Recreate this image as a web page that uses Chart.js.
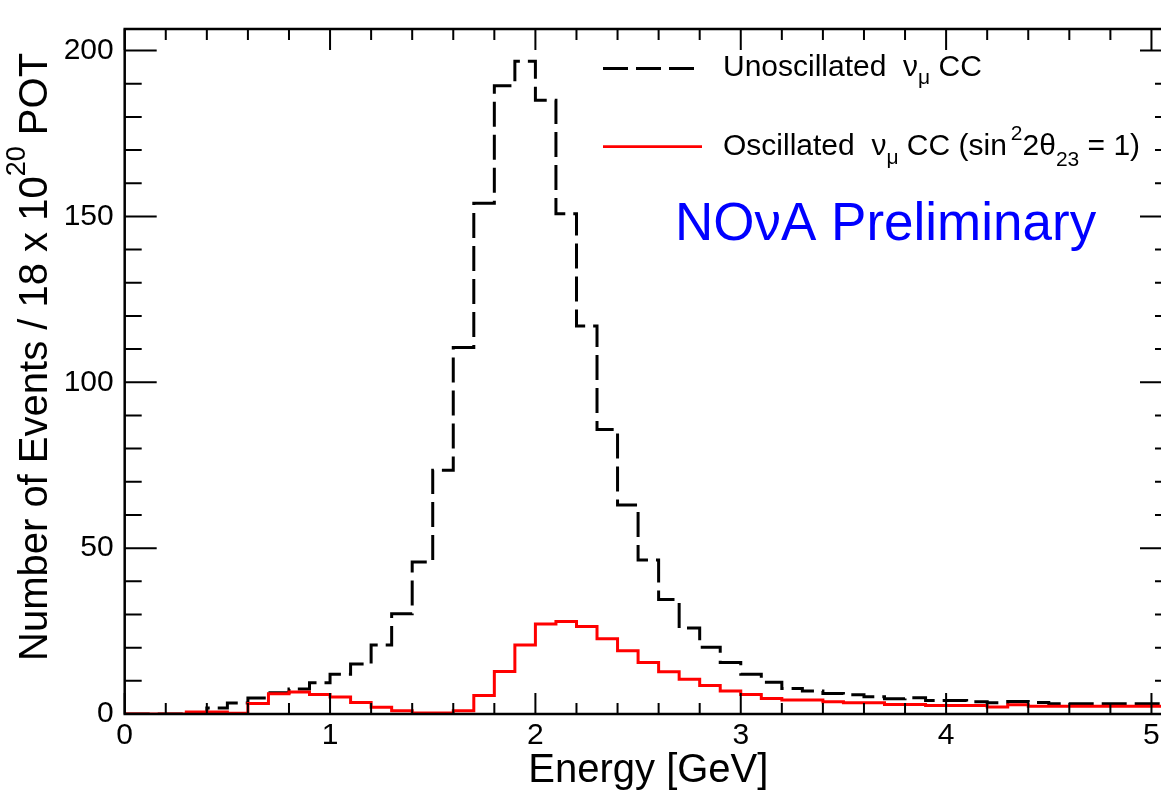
<!DOCTYPE html>
<html lang="en">
<head>
<meta charset="UTF-8">
<title>NOvA numu CC energy spectrum</title>
<script src="https://cdn.jsdelivr.net/npm/chart.js"></script>
<style>
    html, body {
        margin: 0;
        padding: 0;
        background: #fff;
        overflow: hidden;
    }

    /* frame runs a little past the right edge of the window, like the original */
    .wrap {
        width: 1180px;
        height: 792px;
        position: relative;
    }
</style>
</head>
<body>
<div class="wrap"><canvas id="spectrum"></canvas></div>

<script>
// 0.1 GeV bins from 0 to 5.1 GeV, events per bin
const binWidth = 0.1;
const unoscillated = [
    0, 0, 0, 0.3, 1.8, 3.3, 4.8, 6.4, 7.5, 9.4,
    12.0, 15.1, 20.8, 30.2, 45.8, 73.5, 110.5, 154.0, 189.4, 196.8,
    185.0, 150.8, 117.0, 85.8, 63.0, 46.4, 34.5, 25.9, 20.1, 15.5,
    12.0, 9.6, 7.7, 6.9, 6.2, 5.8, 5.2, 4.6, 4.9, 4.1,
    4.1, 3.7, 3.4, 3.8, 3.5, 3.1, 3.1, 3.1, 3.1, 3.1,
    3.1
];
const oscillated = [
    0, 0, 0, 0.6, 0.6, 0.2, 3.2, 6.1, 6.6, 5.9,
    5.1, 3.5, 2.0, 1.0, 0.3, 0.3, 1.0, 5.6, 12.8, 20.8,
    27.1, 27.9, 26.4, 22.7, 19.1, 15.5, 12.7, 10.5, 8.6, 6.9,
    5.9, 4.7, 4.2, 4.2, 3.7, 3.4, 3.4, 2.9, 2.9, 2.6,
    2.6, 2.6, 2.1, 2.8, 2.3, 2.3, 2.3, 2.3, 2.3, 2.3,
    2.3
];
const xTicks = [0, 1, 2, 3, 4, 5];
const yTicks = [0, 50, 100, 150, 200];
const xMinorStep = 0.2;
const yMinorStep = 10;

const FONT = '"Liberation Sans", Arial, Helvetica, sans-serif';
Chart.defaults.font.family = FONT;
Chart.defaults.color = '#000';

// histogram -> points at the bin low edges, plus the last upper edge
function toSteps(values) {
    const pts = values.map((v, i) => ({ x: i * binWidth, y: v }));
    pts.push({ x: values.length * binWidth, y: values[values.length - 1] });
    return pts;
}

// text with sub/superscripts, laid out left to right
function drawRich(ctx, x, y, parts) {
    for (const p of parts) {
        ctx.font = p.size + 'px ' + FONT;
        x += p.gap || 0;
        ctx.fillText(p.t, x, y + (p.dy || 0));
        x += ctx.measureText(p.t).width;
    }
}

// ROOT-like frame with inward ticks on all four sides
const rootFrame = {
    id: 'rootFrame',
    afterDatasetsDraw(chart) {
        const { ctx, chartArea: a, scales: { x, y } } = chart;
        ctx.save();
        ctx.strokeStyle = '#000';
        ctx.lineWidth = 2;
        ctx.beginPath();
        for (let i = 0; i * xMinorStep <= x.max + 1e-6; i++) {
            const v = i * xMinorStep;
            const len = Math.abs(v - Math.round(v)) < 1e-6 ? 21 : 11;
            const px = x.getPixelForValue(v);
            ctx.moveTo(px, a.bottom); ctx.lineTo(px, a.bottom - len);
            ctx.moveTo(px, a.top); ctx.lineTo(px, a.top + len);
        }
        for (let i = 0; i * yMinorStep <= y.max + 1e-6; i++) {
            const v = i * yMinorStep;
            const len = v % 50 === 0 ? 32 : 17;
            const py = y.getPixelForValue(v);
            ctx.moveTo(a.left, py); ctx.lineTo(a.left + len, py);
            ctx.moveTo(a.right, py); ctx.lineTo(a.right - len, py);
        }
        ctx.stroke();
        ctx.lineWidth = 2.5;
        ctx.strokeRect(a.left, a.top, a.right - a.left, a.bottom - a.top);
        ctx.restore();
    },
    afterDraw(chart) {
        const ctx = chart.ctx;
        ctx.save();
        ctx.fillStyle = '#000';
        ctx.textBaseline = 'alphabetic';
        ctx.textAlign = 'left';

        // y title
        ctx.save();
        ctx.translate(47, 661);
        ctx.rotate(-Math.PI / 2);
        drawRich(ctx, 0, 0, [
            { t: 'Number of Events / 18 x 10', size: 40 },
            { t: '20', size: 27, dy: -22 },
            { t: ' POT', size: 40 }
        ]);
        ctx.restore();

        // legend
        ctx.lineWidth = 2.8;
        ctx.strokeStyle = '#000';
        ctx.setLineDash([25, 8]);
        ctx.beginPath();
        ctx.moveTo(603, 68.5);
        ctx.lineTo(694, 68.5);
        ctx.stroke();
        ctx.setLineDash([]);
        ctx.strokeStyle = '#ff0000';
        ctx.beginPath();
        ctx.moveTo(603, 146.7);
        ctx.lineTo(702, 146.7);
        ctx.stroke();

        drawRich(ctx, 723, 76, [
            { t: 'Unoscillated  \u03bd', size: 30 },
            { t: '\u03bc', size: 21, dy: 8 },
            { t: ' CC', size: 30 }
        ]);
        drawRich(ctx, 723, 155, [
            { t: 'Oscillated  \u03bd', size: 30 },
            { t: '\u03bc', size: 21, dy: 9 },
            { t: ' CC (sin', size: 30 },
            { t: '2', size: 21, dy: -15, gap: 4 },
            { t: '2\u03b8', size: 30 },
            { t: '23', size: 21, dy: 11 },
            { t: ' = 1)', size: 30 }
        ]);

        ctx.fillStyle = '#0000ff';
        ctx.font = '53px ' + FONT;
        ctx.fillText('NO\u03bdA Preliminary', 675, 240);
        ctx.restore();
    }
};

const ctx = document.getElementById('spectrum').getContext('2d');
const spectrumChart = new Chart(ctx, {
    type: 'line',
    data: {
        datasets: [
            {
                label: 'Oscillated',
                data: toSteps(oscillated),
                stepped: 'before',
                borderColor: '#ff0000',
                borderWidth: 3,
                pointRadius: 0,
                fill: false
            },
            {
                label: 'Unoscillated',
                data: toSteps(unoscillated),
                stepped: 'before',
                borderColor: '#000000',
                borderWidth: 3,
                borderDash: [25, 8],
                pointRadius: 0,
                fill: false
            }
        ]
    },
    options: {
        responsive: true,
        maintainAspectRatio: false,
        animation: false,
        layout: { padding: { top: 9.5, right: 8, left: 0, bottom: 0 } },
        plugins: {
            legend: { display: false },
            tooltip: { enabled: false }
        },
        scales: {
            x: {
                type: 'linear',
                min: 0,
                max: 5.1,
                afterBuildTicks: scale => { scale.ticks = xTicks.map(v => ({ value: v })); },
                afterFit: scale => { scale.height = 78; },
                grid: { display: false, drawTicks: false },
                border: { display: false },
                ticks: {
                    padding: 4,
                    maxRotation: 0,
                    autoSkip: false,
                    font: { size: 30, lineHeight: 1.2 }
                },
                title: {
                    display: true,
                    text: 'Energy [GeV]',
                    color: '#000',
                    font: { size: 40, lineHeight: 1 },
                    padding: { top: 0, bottom: 1.5 }
                }
            },
            y: {
                min: 0,
                max: 206.5,
                afterBuildTicks: scale => { scale.ticks = yTicks.map(v => ({ value: v })); },
                afterFit: scale => { scale.width = 124.7; },
                grid: { display: false, drawTicks: false },
                border: { display: false },
                ticks: {
                    padding: 11,
                    font: { size: 30, lineHeight: 1.2 }
                }
            }
        }
    },
    plugins: [rootFrame]
});
</script>
</body>
</html>
